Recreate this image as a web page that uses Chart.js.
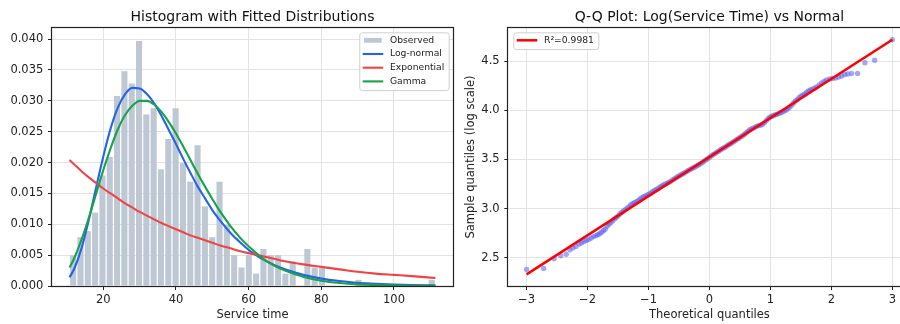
<!DOCTYPE html>
<html>
<head>
<meta charset="utf-8">
<script src="https://cdn.jsdelivr.net/npm/chart.js@4.4.1/dist/chart.umd.min.js"></script>
<style>
  html, body { margin: 0; padding: 0; background: #fff; overflow: hidden; }
  #wrap { position: relative; width: 900px; height: 324px; overflow: hidden; }
  #hist { position: absolute; left: 0; top: 0; }
  #qq { position: absolute; left: 460px; top: 0; }
</style>
</head>
<body>
<div id="wrap">
  <canvas id="hist" width="460" height="324"></canvas>
  <canvas id="qq" width="460" height="324"></canvas>
</div>
<script>
// ── Histogram: observed density, 50 bins ──
const binStart = 10.7;
const binWidth = 2.014;
const observedDensity = [
  0.0050, 0.0079, 0.0089, 0.0119, 0.0179, 0.0209, 0.0308, 0.0348, 0.0328, 0.0397,
  0.0278, 0.0288, 0.0189, 0.0238, 0.0288, 0.0199, 0.0169, 0.0228, 0.0129, 0.0079,
  0.0169, 0.0099, 0.0050, 0.0030, 0.0050, 0.0020, 0.0060, 0.0050, 0.0050, 0.0020,
  0.0040, 0, 0.0060, 0.0030, 0.0030, 0, 0, 0, 0, 0.0010,
  0, 0, 0, 0, 0, 0, 0, 0, 0, 0.0010
];

// ── Fitted pdfs ──
const curveX = [10.7, 12, 14, 16, 18, 20, 22, 24, 26, 28, 30, 32, 34, 36, 38, 40, 42, 44, 46, 48, 50, 52,
  55, 58, 61, 64, 67, 70, 75, 80, 85, 90, 95, 100, 105, 111.4];
const lognormY = [0.0014, 0.0028, 0.0061, 0.0107, 0.0159, 0.0210, 0.0255, 0.0289, 0.0311, 0.0321, 0.0320,
  0.0311, 0.0296, 0.0276, 0.0253, 0.0230, 0.0206, 0.0183, 0.0161, 0.0142, 0.0123, 0.0107,
  0.0086, 0.0069, 0.0054, 0.0043, 0.0034, 0.0027, 0.0018, 0.0012, 0.0008, 0.0005, 0.00036, 0.00024, 0.00016, 0.0001];
const expY = [0.0204, 0.0197, 0.0186, 0.0176, 0.0167, 0.0158, 0.0150, 0.0142, 0.0134, 0.0127, 0.0120,
  0.0114, 0.0108, 0.0102, 0.0097, 0.0092, 0.0087, 0.0082, 0.0078, 0.0074, 0.0070, 0.0066,
  0.0061, 0.0056, 0.0052, 0.0048, 0.0044, 0.0040, 0.0035, 0.0031, 0.0027, 0.0023, 0.0020, 0.0018, 0.0016, 0.0013];
const gammaY = [0.0030, 0.0045, 0.0075, 0.0110, 0.0149, 0.0188, 0.0223, 0.0254, 0.0277, 0.0292, 0.0300,
  0.0300, 0.0294, 0.0282, 0.0266, 0.0247, 0.0226, 0.0204, 0.0182, 0.0161, 0.0141, 0.0122,
  0.0097, 0.0076, 0.0059, 0.0044, 0.0033, 0.0025, 0.0015, 0.00085, 0.00048, 0.00027, 0.00015, 0.00008, 0.00004, 0.00002];

const histXTicks = [20, 40, 60, 80, 100];
const histYTicks = [0, 0.005, 0.010, 0.015, 0.020, 0.025, 0.030, 0.035, 0.040];

// ── Q-Q plot: theoretical vs sample quantiles of log(service time) ──
const qqTheoretical = [
  -3.00, -2.72, -2.55, -2.44, -2.35, -2.29, -2.24, -2.19, -2.14, -2.10,
  -2.06, -2.02, -1.98, -1.94, -1.90, -1.86, -1.83, -1.80, -1.77, -1.74,
  -1.71, -1.68, -1.65, -1.62, -1.59, -1.56, -1.53, -1.50, -1.47, -1.44,
  -1.41, -1.38, -1.35, -1.32, -1.29, -1.26, -1.23, -1.20, -1.17, -1.14,
  -1.11, -1.08, -1.05, -1.02, -0.99, -0.96, -0.93, -0.90, -0.87, -0.84,
  -0.81, -0.78, -0.75, -0.72, -0.69, -0.66, -0.63, -0.60, -0.57, -0.54,
  -0.51, -0.48, -0.45, -0.42, -0.39, -0.36, -0.33, -0.30, -0.27, -0.24,
  -0.21, -0.18, -0.15, -0.12, -0.09, -0.06, -0.03, 0.00, 0.03, 0.06,
  0.09, 0.12, 0.15, 0.18, 0.21, 0.24, 0.27, 0.30, 0.33, 0.36,
  0.39, 0.42, 0.45, 0.48, 0.51, 0.54, 0.57, 0.60, 0.63, 0.66,
  0.69, 0.72, 0.75, 0.78, 0.81, 0.84, 0.87, 0.90, 0.93, 0.96,
  0.99, 1.02, 1.05, 1.08, 1.11, 1.14, 1.17, 1.20, 1.23, 1.26,
  1.29, 1.32, 1.35, 1.38, 1.41, 1.44, 1.47, 1.50, 1.53, 1.56,
  1.59, 1.62, 1.65, 1.68, 1.72, 1.76, 1.80, 1.84, 1.88, 1.92,
  1.97, 2.02, 2.07, 2.12, 2.17, 2.22, 2.27, 2.33, 2.43, 2.55,
  2.71, 3.00
];
const qqSample = [
  2.380, 2.390, 2.490, 2.520, 2.535, 2.580, 2.600, 2.615, 2.640, 2.650,
  2.665, 2.675, 2.685, 2.700, 2.715, 2.725, 2.735, 2.745, 2.760, 2.775,
  2.790, 2.820, 2.840, 2.855, 2.875, 2.895, 2.910, 2.925, 2.945, 2.960,
  2.975, 2.990, 3.005, 3.020, 3.040, 3.050, 3.060, 3.070, 3.080, 3.095,
  3.110, 3.120, 3.130, 3.140, 3.150, 3.160, 3.175, 3.185, 3.195, 3.205,
  3.220, 3.230, 3.240, 3.250, 3.260, 3.270, 3.280, 3.295, 3.305, 3.318,
  3.330, 3.340, 3.350, 3.360, 3.372, 3.383, 3.394, 3.405, 3.414, 3.424,
  3.434, 3.445, 3.456, 3.468, 3.481, 3.495, 3.508, 3.522, 3.535, 3.550,
  3.560, 3.575, 3.585, 3.600, 3.610, 3.620, 3.630, 3.645, 3.655, 3.665,
  3.680, 3.690, 3.705, 3.715, 3.730, 3.740, 3.755, 3.770, 3.785, 3.800,
  3.810, 3.820, 3.830, 3.840, 3.845, 3.850, 3.860, 3.875, 3.895, 3.915,
  3.930, 3.940, 3.945, 3.955, 3.960, 3.970, 3.975, 3.985, 3.995, 4.005,
  4.020, 4.035, 4.055, 4.075, 4.095, 4.110, 4.130, 4.145, 4.155, 4.165,
  4.180, 4.195, 4.205, 4.215, 4.225, 4.240, 4.260, 4.280, 4.295, 4.310,
  4.320, 4.325, 4.330, 4.340, 4.350, 4.365, 4.370, 4.375, 4.375, 4.485,
  4.510, 4.720
];
const fitX = [-3.0, 3.0];
const fitY = [2.33, 4.72];

const qqXTicks = [-3, -2, -1, 0, 1, 2, 3];
const qqYTicks = [2.5, 3.0, 3.5, 4.0, 4.5];

// ── shared look ──
Chart.defaults.font.family = '"DejaVu Sans"';
Chart.defaults.color = '#222';
const FONT = '"DejaVu Sans"';
const gridStyle = { color: '#e3e3e3', lineWidth: 1, tickLength: 4, tickColor: '#222', tickWidth: 1 };

// Frame, title and matplotlib-like legend drawn inside the axes
const panelDecor = {
  id: 'panelDecor',
  afterDraw(chart, args, opts) {
    const { ctx, chartArea: a } = chart;
    ctx.save();

    ctx.strokeStyle = '#222';
    ctx.lineWidth = 1.2;
    ctx.strokeRect(Math.round(a.left) - 0.5, Math.round(a.top) - 0.5,
      Math.round(a.right - a.left) + 1, Math.round(a.bottom - a.top) + 1);

    ctx.fillStyle = '#111';
    ctx.font = '14px ' + FONT;
    ctx.textAlign = 'center';
    ctx.textBaseline = 'alphabetic';
    ctx.fillText(opts.title, (a.left + a.right) / 2, 20.7);

    const items = opts.items.map(i => chart.data.datasets[i]);
    ctx.font = '9.2px ' + FONT;
    const textW = Math.max(...items.map(d => ctx.measureText(d.label).width));
    const boxW = 3.4 + 20.6 + 6.7 + textW + 4.4;
    const boxH = 8 + (items.length - 1) * 13.7 + 8.7;
    const boxX = opts.corner === 'right' ? a.right - 4.3 - boxW : a.left + 5;
    const boxY = a.top + 4.3;

    ctx.beginPath();
    ctx.roundRect(boxX + 0.5, boxY + 0.5, boxW, boxH, 2.5);
    ctx.fillStyle = 'rgba(255,255,255,0.8)';
    ctx.fill();
    ctx.lineWidth = 1;
    ctx.strokeStyle = '#d0d0d0';
    ctx.stroke();

    items.forEach((d, k) => {
      const cy = boxY + 8 + k * 13.7;
      const hx = boxX + 3.4;
      if (d.type === 'line' || d.showLine) {
        ctx.strokeStyle = d.borderColor;
        ctx.lineWidth = d.borderWidth;
        ctx.beginPath();
        ctx.moveTo(hx, cy);
        ctx.lineTo(hx + 20.6, cy);
        ctx.stroke();
      } else {
        ctx.fillStyle = d.backgroundColor;
        ctx.fillRect(hx + 1.3, cy - 2.4, 17.7, 4.8);
      }
      ctx.fillStyle = '#222';
      ctx.textAlign = 'left';
      ctx.textBaseline = 'middle';
      ctx.fillText(d.label, hx + 20.6 + 6.7, cy);
    });
    ctx.restore();
  }
};

// ── Histogram with fitted distributions ──
const barColor = '#bec7d4';
const bars = observedDensity.map((y, i) => ({ x: binStart + binWidth * (i + 0.5), y }));
const curve = ys => curveX.map((x, i) => ({ x, y: ys[i] }));

new Chart(document.getElementById('hist'), {
  type: 'bar',
  data: {
    datasets: [
      { label: 'Observed', data: bars, backgroundColor: barColor, borderWidth: 0,
        barPercentage: 0.83, categoryPercentage: 1, order: 3 },
      { type: 'line', label: 'Log-normal', data: curve(lognormY), borderColor: '#2563eb',
        borderWidth: 2.1, pointRadius: 0, cubicInterpolationMode: 'monotone', order: 2 },
      { type: 'line', label: 'Exponential', data: curve(expY), borderColor: '#ef4444',
        borderWidth: 2.1, pointRadius: 0, cubicInterpolationMode: 'monotone', order: 1 },
      { type: 'line', label: 'Gamma', data: curve(gammaY), borderColor: '#16a34a',
        borderWidth: 2.1, pointRadius: 0, cubicInterpolationMode: 'monotone', order: 0 }
    ]
  },
  options: {
    responsive: false,
    animation: false,
    layout: { padding: { top: 28, right: 7, left: 0, bottom: 0 } },
    plugins: {
      legend: { display: false },
      tooltip: { enabled: false },
      panelDecor: { title: 'Histogram with Fitted Distributions', items: [0, 1, 2, 3], corner: 'right' }
    },
    scales: {
      x: {
        type: 'linear', min: 5.88, max: 116.24, offset: false,
        afterBuildTicks: s => { s.ticks = histXTicks.map(v => ({ value: v })); },
        afterFit: s => { s.height = 38; },
        grid: { ...gridStyle, offset: false },
        border: { display: false },
        ticks: { font: { size: 11.5 }, padding: 3.5, maxRotation: 0 },
        title: { display: true, text: 'Service time', font: { size: 11.5 }, padding: { top: 0, bottom: 2 } }
      },
      y: {
        type: 'linear', min: 0, max: 0.0418,
        afterBuildTicks: s => { s.ticks = histYTicks.map(v => ({ value: v })); },
        afterFit: s => { s.width = 52; },
        grid: gridStyle,
        border: { display: false },
        ticks: { font: { size: 11.5 }, padding: 4.7, callback: v => v.toFixed(3) }
      }
    }
  },
  plugins: [panelDecor]
});

// ── Q-Q plot ──
const qqPoints = qqTheoretical.map((x, i) => ({ x, y: qqSample[i] }));
const fitLine = fitX.map((x, i) => ({ x, y: fitY[i] }));

new Chart(document.getElementById('qq'), {
  type: 'scatter',
  data: {
    datasets: [
      { label: 'Sample', data: qqPoints, backgroundColor: 'rgba(90,95,235,0.55)',
        borderWidth: 0, pointRadius: 2.7, order: 1 },
      { label: 'R\u00b2=0.9981', data: fitLine, showLine: true, borderColor: '#ff0000',
        borderWidth: 2.5, pointRadius: 0, order: 0 }
    ]
  },
  options: {
    responsive: false,
    animation: false,
    layout: { padding: { top: 28, right: 9.4, left: 0, bottom: 0 } },
    plugins: {
      legend: { display: false },
      tooltip: { enabled: false },
      panelDecor: { title: 'Q-Q Plot: Log(Service Time) vs Normal', items: [1], corner: 'left' }
    },
    scales: {
      x: {
        type: 'linear', min: -3.3, max: 3.3,
        afterBuildTicks: s => { s.ticks = qqXTicks.map(v => ({ value: v })); },
        afterFit: s => { s.height = 38; },
        grid: gridStyle,
        border: { display: false },
        ticks: { font: { size: 11.5 }, padding: 3.5, maxRotation: 0,
          callback: v => String(v).replace('-', '\u2212') },
        title: { display: true, text: 'Theoretical quantiles', font: { size: 11.5 }, padding: { top: 0, bottom: 2 } }
      },
      y: {
        type: 'linear', min: 2.212, max: 4.839,
        afterBuildTicks: s => { s.ticks = qqYTicks.map(v => ({ value: v })); },
        afterFit: s => { s.width = 48.3; },
        grid: gridStyle,
        border: { display: false },
        ticks: { font: { size: 11.5 }, padding: 4.7, callback: v => v.toFixed(1) },
        title: { display: true, text: 'Sample quantiles (log scale)', font: { size: 11.5 }, padding: { top: 4.1, bottom: 0 } }
      }
    }
  },
  plugins: [panelDecor]
});
</script>
</body>
</html>
